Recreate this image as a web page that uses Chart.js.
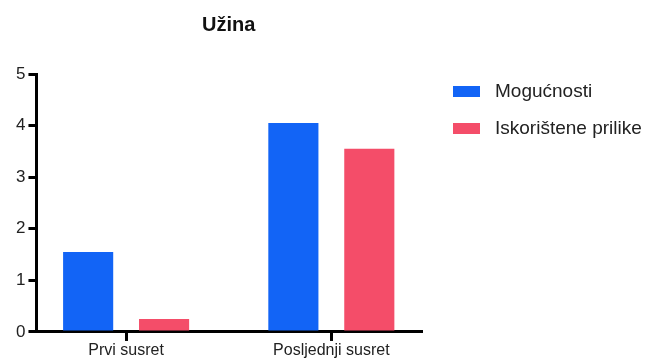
<!DOCTYPE html>
<html>
<head>
<meta charset="utf-8">
<script src="https://cdn.jsdelivr.net/npm/chart.js@4"></script>
<style>
  body { margin: 0; background: #fff; }
  #wrap { position: relative; width: 645px; height: 360px; }
  #legend {
    position: absolute; left: 453px; top: 82px;
    font-family: 'Liberation Sans', Arial, Helvetica, sans-serif;
    font-size: 19px; color: #222;
  }
  .item { display: flex; align-items: center; height: 18px; line-height: 18px; margin-bottom: 19px; white-space: nowrap; }
  .box { width: 27px; height: 11px; margin-right: 15px; }
</style>
</head>
<body>
<div id="wrap">
  <canvas id="chartUzina"></canvas>
  <div id="legend"></div>
</div>
<script>
// Užina - podaci
const categories = ['Prvi susret', 'Posljednji susret'];
const seriesNames = ['Mogućnosti', 'Iskorištene prilike'];
const mogucnosti = [1.55, 4.05];
const iskoristene = [0.25, 3.55];
const yTicks = [0, 1, 2, 3, 4, 5];
const colors = ['#1264F6', '#F44D69'];

const font = "'Liberation Sans', Arial, Helvetica, sans-serif";
const toPoints = (arr) => arr.map((v, i) => ({ x: i, y: v }));

new Chart(document.getElementById('chartUzina'), {
  type: 'bar',
  data: {
    datasets: [{
      label: seriesNames[0],
      data: toPoints(mogucnosti),
      backgroundColor: colors[0],
      categoryPercentage: 0.74,
      barPercentage: 0.66
    }, {
      label: seriesNames[1],
      data: toPoints(iskoristene),
      backgroundColor: colors[1],
      categoryPercentage: 0.74,
      barPercentage: 0.66
    }]
  },
  options: {
    responsive: true,
    maintainAspectRatio: false,
    animation: false,
    layout: { padding: { left: 13, right: 224, top: 0, bottom: 0 } },
    scales: {
      x: {
        type: 'linear',
        offset: false,
        min: -90 / 206,
        max: 1 + 90 / 206,
        afterBuildTicks: (s) => { s.ticks = categories.map((_, i) => ({ value: i })); },
        grid: { offset: false, drawOnChartArea: false, drawTicks: true, tickLength: 9, lineWidth: 3, color: '#000' },
        border: { display: true, width: 3, color: '#000' },
        ticks: {
          callback: (v) => categories[v],
          font: { family: font, size: 16, lineHeight: 0.94 },
          color: '#222',
          padding: 2,
          maxRotation: 0,
          autoSkip: false
        }
      },
      y: {
        min: 0,
        max: 5,
        afterBuildTicks: (s) => { s.ticks = yTicks.map(v => ({ value: v })); },
        grid: { drawOnChartArea: false, drawTicks: true, tickLength: 8, lineWidth: 3, color: '#000' },
        border: { display: true, width: 3, color: '#000' },
        ticks: { font: { family: font, size: 17 }, color: '#222', padding: 3 }
      }
    },
    plugins: {
      title: {
        display: true,
        text: 'Užina',
        fullSize: false,
        color: '#111',
        font: { family: font, size: 20, weight: 'bold' },
        padding: { top: 13, bottom: 37 }
      },
      legend: { display: false },
      tooltip: { enabled: false }
    }
  }
});

// legenda desno
const legend = document.getElementById('legend');
seriesNames.forEach((name, i) => {
  const item = document.createElement('div');
  item.className = 'item';
  const box = document.createElement('span');
  box.className = 'box';
  box.style.background = colors[i];
  item.appendChild(box);
  item.appendChild(document.createTextNode(name));
  legend.appendChild(item);
});
</script>
</body>
</html>
